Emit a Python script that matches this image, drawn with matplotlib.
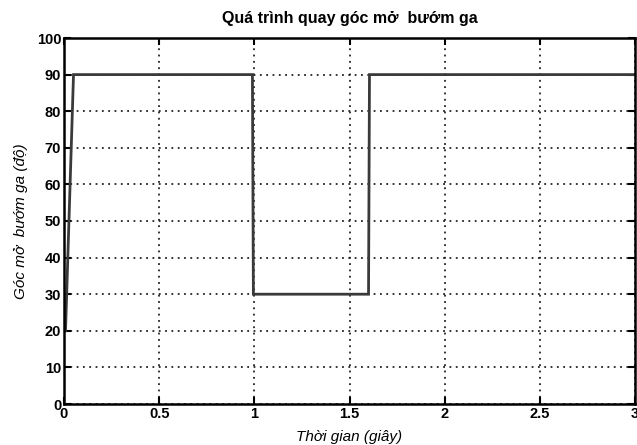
import matplotlib
matplotlib.use("Agg")
import matplotlib.pyplot as plt

# Data
t = [0.008, 0.05, 0.99, 0.995, 1.60, 1.605, 3.0]
angle = [20, 90, 90, 30, 30, 90, 90]
xticks = [0, 0.5, 1, 1.5, 2, 2.5, 3]
xticklabels = ["0", "0.5", "1", "1.5", "2", "2.5", "3"]
yticks = list(range(0, 101, 10))

plt.rcParams['font.family'] = ['Liberation Sans', 'DejaVu Sans']

fig = plt.figure(figsize=(6.37, 4.45), dpi=100)
ax = fig.add_axes([64/637, 41/445, 571/637, 366/445])

ax.plot(t, angle, color='#3a3a3a', linewidth=2.0, solid_joinstyle='miter')
ax.set_xlim(0, 3)
ax.set_ylim(0, 100)
ax.set_xticks(xticks)
ax.set_xticklabels(xticklabels)
ax.set_yticks(yticks)

ax.grid(True, color='#222222', linestyle=(0, (1, 2.5)), linewidth=1.3)
ax.tick_params(direction='in', length=5, width=1.5, labelsize=10.5, pad=2,
               top=True, right=True)
for lab in ax.get_xticklabels() + ax.get_yticklabels():
    lab.set_fontweight('bold')
for s in ax.spines.values():
    s.set_linewidth(1.8)
    s.set_color('black')

ax.set_title("Quá trình quay góc mở  bướm ga", fontsize=11.5, fontweight='bold', pad=11)
ax.set_xlabel("Thời gian (giây)", fontsize=11, fontstyle='italic', labelpad=7)
ax.set_ylabel("Góc mở  bướm ga (độ)", fontsize=11, fontstyle='italic', labelpad=6)

fig.savefig("out.png", dpi=100)
